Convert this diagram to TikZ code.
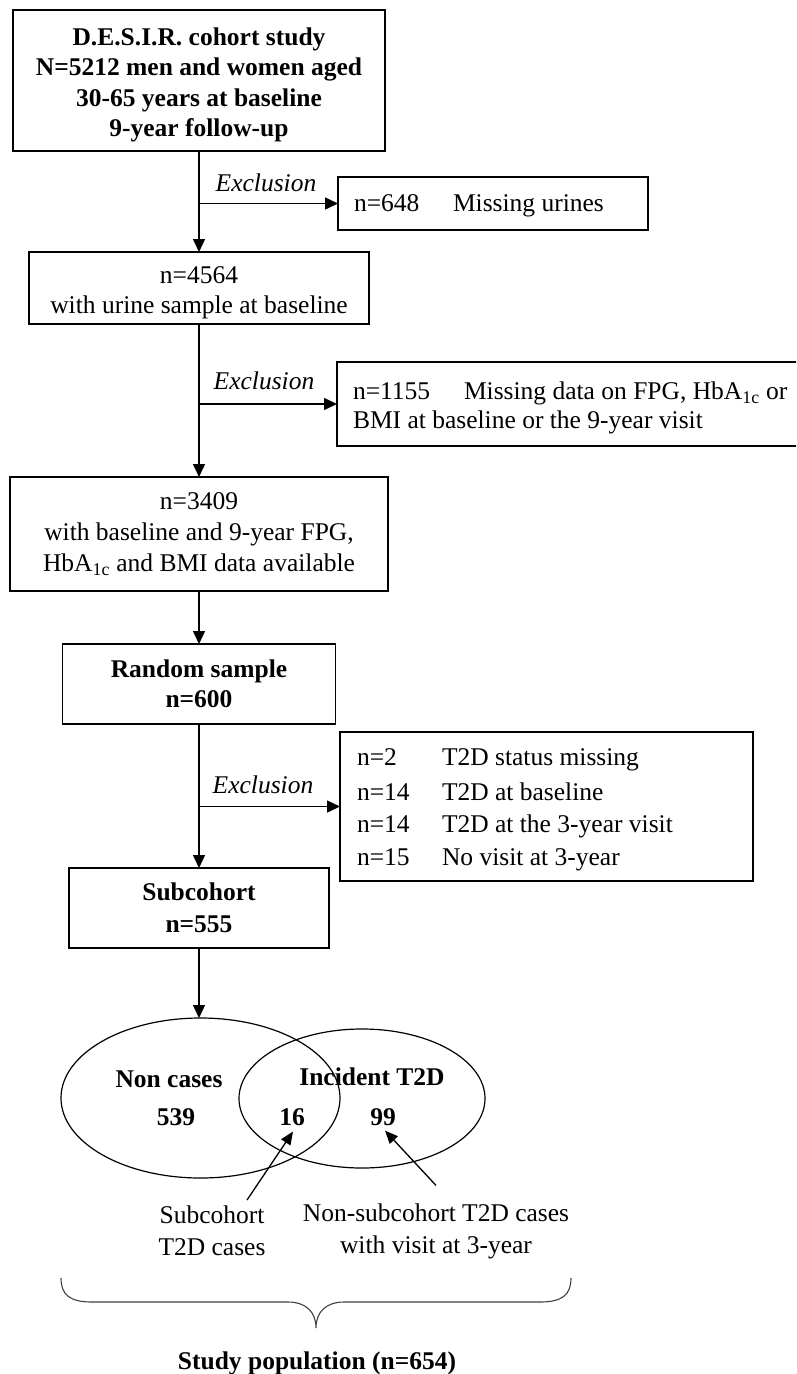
\documentclass[tikz,border=0pt]{standalone}
\usepackage{fontspec}
\setmainfont{Liberation Serif}
\usetikzlibrary{arrows.meta,shapes.geometric}
\begin{document}
\begin{tikzpicture}[x=1pt,y=-1pt,
  every node/.style={inner sep=0pt,outer sep=0pt},
  box/.style={draw=black,line width=1.5pt,rectangle,align=center,font=\fontsize{25.5}{30.5}\selectfont},
  bbox/.style={box,font=\fontsize{25.5}{30.5}\selectfont\bfseries},
  tx/.style={font=\fontsize{25.5}{30.5}\selectfont},
  txc/.style={font=\fontsize{25.5}{32}\selectfont,align=center},
  btx/.style={font=\fontsize{25.5}{30.5}\selectfont\bfseries},
  btxc/.style={font=\fontsize{25.5}{30.5}\selectfont\bfseries,align=center},
  excl/.style={font=\fontsize{25.5}{30.5}\selectfont\itshape},
  arr/.style={line width=1.5pt,-{Triangle[length=13pt,width=12pt]}},
  thinarr/.style={line width=1.3pt,-{Triangle[length=13pt,width=11pt]}},
  venn/.style={draw=black,line width=1.2pt,ellipse},
  bracestyle/.style={draw=black!75,line width=1.1pt},
]
\useasboundingbox (0,0) rectangle (796,1374);

% main column
\node[box,minimum width=372pt,minimum height=141pt] (b1) at (199,80.5) {};
\node[btxc] (t1) at (199,85) {D.E.S.I.R. cohort study\\N=5212 men and women aged\\30-65 years at baseline\\9-year follow-up};
\node[box,minimum width=340pt,minimum height=72pt] (b2) at (199,288) {};
\node[txc,font=\fontsize{25.5}{30}\selectfont] (t2) at (199,293) {n=4564\\with urine sample at baseline};
\node[box,font=\fontsize{25.5}{31}\selectfont,minimum width=378pt,minimum height=114pt] (b4) at (199,534) {n=3409\\with baseline and 9-year FPG,\\HbA\textsubscript{1c} and BMI data available};
\node[bbox,minimum width=273pt,minimum height=80pt] (b5) at (199,684) {Random sample\\n=600};
\node[bbox,font=\fontsize{25.5}{32}\selectfont\bfseries,minimum width=260pt,minimum height=80pt] (b6) at (199,908) {Subcohort\\n=555};

% exclusion boxes
\node[box,minimum width=310pt,minimum height=53pt] (x1) at (493,203.5) {};
\node[tx,anchor=base west] (x1n) at (354,211.5) {n=648};
\node[tx,anchor=base west] (x1d) at (453,211.5) {Missing urines};

\begin{scope}
\clip (0,0) rectangle (796,1374);
\node[box,minimum width=463pt,minimum height=84pt] (x2) at (568.5,404) {};
\end{scope}
\node[tx,anchor=base west] (x2n) at (353,399.5) {n=1155};
\node[tx,anchor=base west] (x2d) at (464,399.5) {Missing data on FPG, HbA\textsubscript{1c} or};
\node[tx,anchor=base west] (x2e) at (353,428.5) {BMI at baseline or the 9-year visit};

\node[box,minimum width=413pt,minimum height=149pt] (x3) at (546.5,806.5) {};
\node[tx,anchor=base west] (x3n1) at (357,765.5) {n=2};
\node[tx,anchor=base west] (x3d1) at (442,765.5) {T2D status missing};
\node[tx,anchor=base west] (x3n2) at (357,800.5) {n=14};
\node[tx,anchor=base west] (x3d2) at (442,800.5) {T2D at baseline};
\node[tx,anchor=base west] (x3n3) at (357,832.5) {n=14};
\node[tx,anchor=base west] (x3d3) at (442,832.5) {T2D at the 3-year visit};
\node[tx,anchor=base west] (x3n4) at (357,865.5) {n=15};
\node[tx,anchor=base west] (x3d4) at (442,865.5) {No visit at 3-year};

% exclusion labels
\node[excl] (l1) at (266,183) {Exclusion};
\node[excl] (l2) at (264,381) {Exclusion};
\node[excl] (l3) at (263,785) {Exclusion};

% main arrows
\draw[arr] (b1.south) -- (b2.north);
\draw[arr] (b2.south) -- (b4.north);
\draw[arr] (b4.south) -- (b5.north);
\draw[arr] (b5.south) -- (b6.north);

% exclusion arrows
\coordinate (j1) at (b1.south |- x1.west);
\draw[arr] (j1) -- (x1.west);
\coordinate (j2) at (b2.south |- x2.west);
\draw[arr] (j2) -- (x2.west);
\coordinate (j3) at (b5.south |- x3.west);
\draw[arr] (j3) -- (x3.west);

% Venn
\node[venn,minimum width=279pt,minimum height=160pt] (e1) at (200.5,1098) {};
\node[venn,minimum width=246pt,minimum height=139pt] (e2) at (362,1098.5) {};
\draw[arr] (b6.south) -- (b6.south |- e1.north);

\node[btx] (nc) at (169,1079) {Non cases};
\node[btx] (it) at (372,1077) {Incident T2D};
\node[btx] (n539) at (176,1117) {539};
\node[btx] (n16) at (292,1117) {16};
\node[btx] (n99) at (383,1117) {99};

\node[txc] (lab1) at (212,1231) {Subcohort\\T2D cases};
\node[txc] (lab2) at (436,1231) {Non-subcohort T2D cases\\with visit at 3-year};

\draw[thinarr] ([xshift=35pt,yshift=6pt]lab1.north) -- ([xshift=1pt,yshift=-6pt]n16.south);
\draw[thinarr] ([yshift=18pt]lab2.north) -- ([xshift=2pt,yshift=-5pt]n99.south);

% brace
\draw[bracestyle] (61,1278) .. controls (61,1295) and (70,1302) .. (92,1302) -- (288,1302)
  .. controls (306,1302) and (316,1312) .. (316,1328)
  .. controls (316,1312) and (326,1302) .. (344,1302) -- (540,1302)
  .. controls (562,1302) and (571,1295) .. (571,1278);

\node[btx] (sp) at (317,1363) {Study population (n=654)};
\end{tikzpicture}
\end{document}
